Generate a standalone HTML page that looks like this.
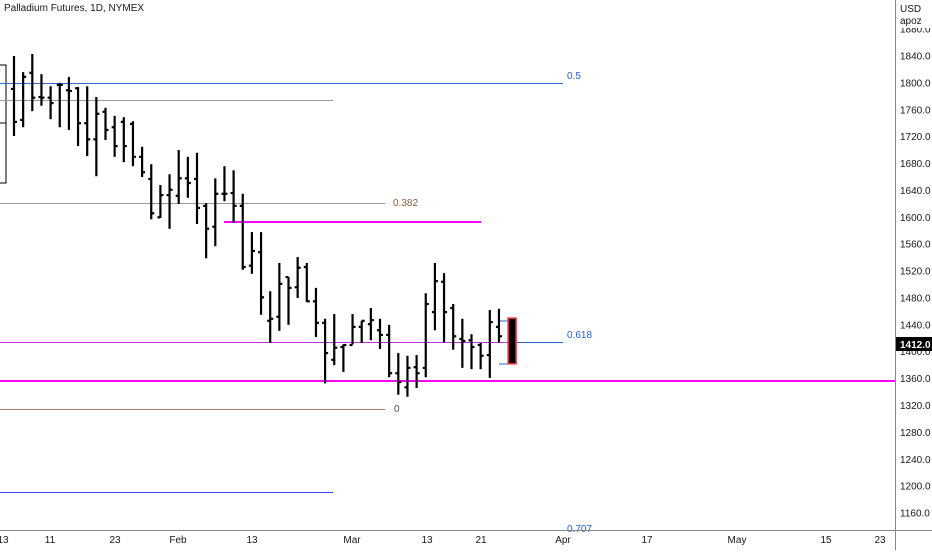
<!DOCTYPE html>
<html><head><meta charset="utf-8"><style>
body{margin:0;background:#fff;width:932px;height:550px;overflow:hidden;font-family:"Liberation Sans",sans-serif;}
svg text{font-family:"Liberation Sans",sans-serif;font-size:10px;}
</style></head><body>
<svg id="chart" width="932" height="550" xmlns="http://www.w3.org/2000/svg">
<g id="grid"></g>
<g id="bars"></g>
<g id="yaxis"></g>
<g id="xaxis"></g>
</svg>
<script>
const opens =[1791,1745,1815,1779,1778,1797,1789,1792,1740,1716,1757,1734,1742,1739,1690,1657,1600,1633,1632,1658,1657,1617,1586,1635,1636,1617,1528,1548,1446,1452,1511,1496,1526,1475,1443,1388,1407,1410,1437,1441,1432,1425,1368,1347,1377,1376,1459,1504,1465,1419,1417,1410,1395,1437,1450];
const highs =[1840,1816,1843,1813,1795,1800,1809,1794,1795,1779,1763,1751,1749,1743,1705,1679,1648,1664,1700,1690,1696,1621,1658,1676,1670,1635,1578,1578,1490,1532,1511,1541,1532,1495,1449,1456,1411,1456,1446,1465,1449,1440,1398,1394,1395,1487,1532,1517,1471,1449,1426,1413,1462,1464,1450];
const lows  =[1721,1734,1758,1766,1746,1734,1730,1706,1691,1661,1715,1690,1682,1676,1660,1597,1599,1583,1620,1629,1590,1539,1557,1624,1592,1522,1516,1455,1413,1431,1440,1480,1474,1422,1353,1380,1370,1411,1413,1417,1404,1362,1336,1333,1346,1362,1432,1414,1403,1376,1374,1374,1361,1414,1382];
const closes=[1742,1809,1778,1778,1770,1797,1788,1740,1716,1754,1730,1706,1706,1690,1667,1606,1633,1641,1658,1651,1614,1583,1635,1635,1617,1526,1550,1481,1449,1501,1495,1525,1475,1443,1398,1406,1410,1437,1446,1447,1425,1368,1355,1376,1368,1471,1505,1459,1423,1416,1407,1394,1444,1423,1382];
const yTicks=[1880,1840,1800,1760,1720,1680,1640,1600,1560,1520,1480,1440,1400,1360,1320,1280,1240,1200,1160];
const xLabels=["13","11","23","Feb","13","Mar","13","21","Apr","17","May","15","23"];
const xLabelPos=[3,50,115,178,252,352,427,481,563,647,737,826,880];

const NS="http://www.w3.org/2000/svg";
const yOf=p=>56+(1840-p)*0.6721;
const xOf=i=>14+i*9.15;
function mk(tag,attrs,parent){const e=document.createElementNS(NS,tag);for(const k in attrs)e.setAttribute(k,attrs[k]);parent.appendChild(e);return e;}
const grid=document.getElementById('grid'),bars=document.getElementById('bars'),ya=document.getElementById('yaxis'),xa=document.getElementById('xaxis');

function hl(x1,x2,y,c,w,name){const l=mk('line',{x1:x1,x2:x2,y1:y,y2:y,stroke:c,'stroke-width':w},grid);

}
function tx(x,y,s,c,name,anchor){const t=mk('text',{x:x,y:y,fill:c,'text-anchor':anchor||'start'},grid);t.textContent=s;

}
const r=mk('rect',{x:-1,y:65,width:7,height:118,fill:'none',stroke:'#000','stroke-width':1},grid);


hl(0,6,123,'#000',1,'rectangle-divider');
hl(0,563,83.5,'#2f6fd6',1,'fib-0.5-line');
tx(567,79,'0.5','#2962c8','fib-0.5-label');
hl(0,333,100.5,'#999',1,'gray-level-line');
hl(0,385,203.5,'#999',1,'fib-0.382-line');
tx(393,206,'0.382','#8b5a3c','fib-0.382-label');
hl(224,481,222,'#ff00ff',2,'magenta-resistance-line');
hl(0,508,342.5,'#c030e0',1,'purple-level-line');
hl(508,563,342.5,'#2962c8',1,'fib-0.618-line');
tx(567,338,'0.618','#2962c8','fib-0.618-label');
hl(0,895,381,'#ff00ff',2,'magenta-support-line');
hl(0,385,409.5,'#a08070',1,'fib-0-line');
tx(394,412,'0','#555','fib-0-label');
hl(0,333,492.5,'#4040ff',1,'blue-level-line');
tx(567,532,'0.707','#2962c8','fib-0.707-label');
hl(499,508,321,'#2962c8',1,'tick-upper');
hl(499,508,364,'#2962c8',1,'tick-lower');

for(let i=0;i<opens.length;i++){
  const x=xOf(i);
  const g=mk('g',{},bars);
  
  
  if(i===opens.length-1){
    const top=yOf(Math.max(opens[i],closes[i])),bot=yOf(Math.min(opens[i],closes[i]));
    mk('rect',{x:x,y:top,width:8,height:bot-top,fill:'#000',stroke:'#f23645','stroke-width':1.5},g);
  } else {
    mk('line',{x1:x,x2:x,y1:yOf(highs[i]),y2:yOf(lows[i]),stroke:'#000','stroke-width':2.2},g);
    mk('line',{x1:x-3,x2:x,y1:yOf(opens[i]),y2:yOf(opens[i]),stroke:'#000','stroke-width':2.2},g);
    mk('line',{x1:x,x2:x+3,y1:yOf(closes[i]),y2:yOf(closes[i]),stroke:'#000','stroke-width':2.2},g);
  }
}

const ycover=mk('g',{},ya);
let l=mk('line',{x1:895.5,x2:895.5,y1:0,y2:550,stroke:'#888','stroke-width':1},ya);


for(const v of yTicks){const tt=mk('text',{x:900,y:yOf(v)+3.5,fill:'#131722'},ya);tt.textContent=v.toFixed(1);

}
const cov=mk('rect',{x:896,y:0,width:36,height:28,fill:'#fff'},ya);


let t=mk('text',{x:900,y:12,fill:'#131722'},ya);t.textContent='USD';


t=mk('text',{x:900,y:24,fill:'#131722'},ya);t.textContent='apoz';


const pb=mk('rect',{x:896,y:337,width:36,height:14,fill:'#000'},ya);


t=mk('text',{x:900,y:348,fill:'#fff','font-weight':'bold'},ya);t.textContent='1412.0';



l=mk('line',{x1:0,x2:932,y1:530.5,y2:530.5,stroke:'#888','stroke-width':1},xa);


for(let i=0;i<xLabels.length;i++){const tt=mk('text',{x:xLabelPos[i],y:543,fill:'#131722','text-anchor':'middle'},xa);tt.textContent=xLabels[i];

}
t=mk('text',{x:4,y:11,fill:'#131722','font-size':'9'},xa);t.textContent='Palladium Futures, 1D, NYMEX';


</script>
</body></html>
